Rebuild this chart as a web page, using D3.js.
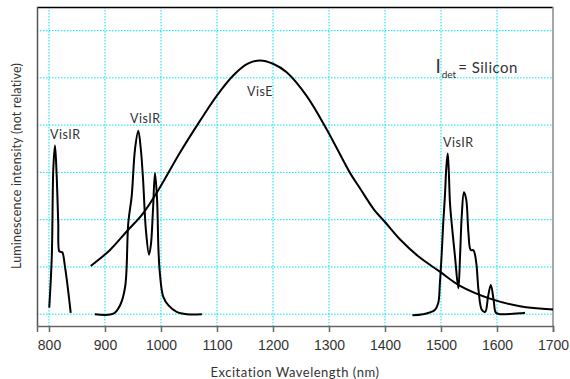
<!DOCTYPE html>
<html>
<head>
<meta charset="utf-8">
<script src="https://cdn.jsdelivr.net/npm/d3@7"></script>
<style>
  body { margin: 0; background: #fff; }
  svg { display: block; font-family: Lato, "Open Sans", sans-serif; }
  .grid line { stroke: #00e5f0; stroke-width: 1; stroke-dasharray: 1.5 1.5; }
  .axis text { fill: #333; font-size: 14px; }
  .axis path, .axis line { stroke: #666; }
  .curve { fill: none; stroke: #000; stroke-width: 2; }
  .note { fill: #333; font-size: 12.5px; letter-spacing: 0.5px; }
</style>
</head>
<body>
<svg id="chart" width="570" height="379"></svg>
<script>
// x ticks (nm) and horizontal grid levels
var xTicks = [800, 900, 1000, 1100, 1200, 1300, 1400, 1500, 1600, 1700];
var yGrid = [0, 1, 2, 3, 4, 5, 6];

// first VisIR band (~810 nm)
var visIR1 = [[800.5, 0.14], [805, 1.22], [807.8, 3.1], [810.7, 3.57], [813.5, 3.0], [816.5, 1.94], [818.4, 1.33],
  [821, 1.32], [823.8, 1.31], [828.6, 1.0], [833.4, 0.58], [838.8, 0.03]];

// second VisIR band (~960 / 990 nm)
var visIR2 = [[882, 0], [915, 0.01], [927, 0.19], [936, 0.58], [941.6, 1.93], [947.7, 2.5], [953.6, 3.49],
  [959.5, 3.88], [964, 3.49], [968, 2.85], [973, 1.79], [978.6, 1.26], [982, 1.47], [985.7, 2.2],
  [989.3, 2.99], [993, 2.43], [995.5, 1.36], [998, 0.87], [1004, 0.37], [1013, 0.19], [1028, 0.05],
  [1046, 0], [1073, 0]];

// VisE broad band
var visE = [[874.5, 1.02], [909, 1.36], [938.7, 1.75], [968.4, 2.14], [998, 2.68], [1034, 3.42],
  [1069.6, 4.09], [1099.5, 4.62], [1129, 5.05], [1155, 5.3], [1176.8, 5.37], [1200, 5.3], [1224.4, 5.12],
  [1260, 4.62], [1296, 3.91], [1337.5, 2.99], [1355, 2.67], [1380, 2.22], [1400, 1.95], [1427, 1.58],
  [1460, 1.22], [1498, 0.9], [1534, 0.6], [1587.5, 0.33], [1641, 0.17], [1700, 0.1]];

// third VisIR band (~1510 / 1540 nm)
var visIR3 = [[1449, -0.02], [1468, 0], [1489, 0.09], [1495, 0.23], [1498, 0.65], [1501, 1.22], [1504, 1.93],
  [1507, 2.5], [1509.5, 3.1], [1512, 3.4], [1514, 3.0], [1516, 2.36], [1519, 1.93], [1525, 1.22],
  [1531, 0.55], [1534, 1.22], [1537, 2.07], [1541, 2.58], [1545, 2.43], [1549, 1.72], [1553, 1.36],
  [1558, 1.35], [1563, 1.08], [1567, 0.51], [1573, 0.09], [1579, 0.05], [1584, 0.37], [1589, 0.62],
  [1594, 0.3], [1598, 0.03], [1605, 0], [1629, 0.01], [1650, 0.03]];

var labels = [
  {text: "VisIR", x: 801.8, y: 3.71},
  {text: "VisIR", x: 944.6, y: 4.05},
  {text: "VisE", x: 1153.6, y: 4.62},
  {text: "VisIR", x: 1503.6, y: 3.54}
];

var svg = d3.select("#chart");
var margin = {top: 7, right: 17, bottom: 53, left: 37};
var W = 570 - margin.left - margin.right,
    H = 379 - margin.top - margin.bottom;

var x = d3.scaleLinear().domain([778.6, 1700]).range([0, W]);
var y = d3.scaleLinear().domain([-0.25, 6.5]).range([H, 0]);

var g = svg.append("g")
    .attr("transform", "translate(" + margin.left + "," + margin.top + ")");

// grid
var grid = g.append("g").attr("class", "grid");
grid.selectAll(".v").data(xTicks.slice(0, -1)).enter().append("line")
    .attr("x1", function(d) { return x(d); }).attr("x2", function(d) { return x(d); })
    .attr("y1", 0).attr("y2", H);
grid.selectAll(".h").data(yGrid).enter().append("line")
    .attr("x1", 0).attr("x2", W)
    .attr("y1", function(d) { return y(d); }).attr("y2", function(d) { return y(d); });

// frame
g.append("line").attr("x1", 0).attr("x2", W).attr("y1", 0.5).attr("y2", 0.5)
    .attr("stroke", "#000").attr("stroke-width", 1.5);
g.append("line").attr("x1", 0.5).attr("x2", 0.5).attr("y1", 0).attr("y2", H)
    .attr("stroke", "#555").attr("stroke-width", 1.5);
g.append("line").attr("x1", W).attr("x2", W).attr("y1", 0).attr("y2", H)
    .attr("stroke", "#888").attr("stroke-width", 1.5);

// x axis
var xAxis = g.append("g")
    .attr("class", "axis")
    .attr("transform", "translate(0," + H + ")")
    .call(d3.axisBottom(x).tickValues(xTicks).tickFormat(d3.format("d")).tickSize(6).tickPadding(8));
xAxis.select(".domain").attr("stroke", "#666").attr("stroke-width", 1.5);
xAxis.selectAll(".tick line").attr("stroke-width", 1.5);

// curves
var line = d3.line()
    .curve(d3.curveCatmullRom.alpha(0.5))
    .x(function(d) { return x(d[0]); })
    .y(function(d) { return y(d[1]); });

[visIR1, visIR2, visE, visIR3].forEach(function(s) {
  g.append("path").attr("class", "curve").attr("d", line(s));
});

// peak labels
g.selectAll(".note").data(labels).enter().append("text")
    .attr("class", "note")
    .attr("x", function(d) { return x(d.x); })
    .attr("y", function(d) { return y(d.y); })
    .text(function(d) { return d.text; });

// detector note
var det = g.append("text")
    .attr("x", x(1490)).attr("y", y(5.1))
    .style("fill", "#333")
    .style("font-size", "15px");
det.append("tspan").style("font-size", "19px").text("I");
det.append("tspan").attr("dy", 5).attr("dx", 1).style("font-size", "10px").text("det");
det.append("tspan").attr("dy", -5).attr("dx", 2).style("letter-spacing", "0.5px").text("= Silicon");

// axis titles
svg.append("text")
    .attr("x", 295).attr("y", 377)
    .attr("text-anchor", "middle")
    .style("font-size", "13px").style("fill", "#333").style("letter-spacing", "0.5px")
    .text("Excitation Wavelength (nm)");

svg.append("text")
    .attr("transform", "translate(21,166) rotate(-90)")
    .attr("text-anchor", "middle")
    .style("font-size", "12.5px").style("fill", "#333").style("letter-spacing", "0.2px")
    .text("Luminescence intensity (not relative)");
</script>
</body>
</html>
